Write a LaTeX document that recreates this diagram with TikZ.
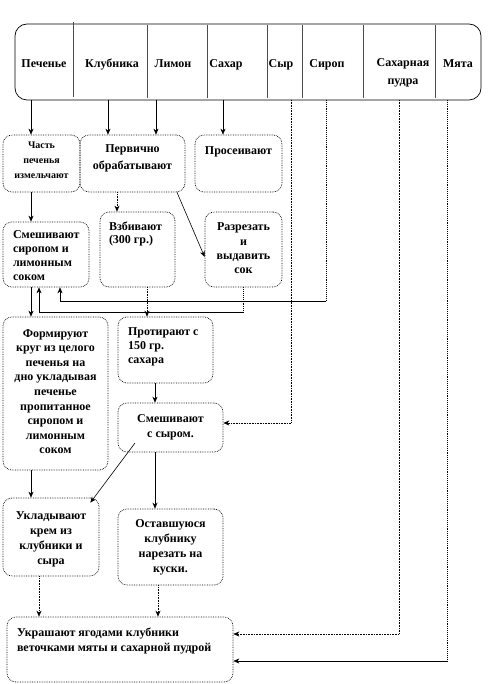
\documentclass[tikz,border=0pt]{standalone}
\usepackage{fontspec}
\setmainfont{Liberation Serif}
\usetikzlibrary{arrows.meta}
\newcommand\inbox[4]{\parbox[c][#1][t]{#2}{\vspace*{#3}#4}}
\begin{document}
\begin{tikzpicture}[x=1pt,y=-1pt,
  every node/.style={font=\fontsize{12}{14.5}\selectfont\bfseries, inner sep=0pt},
  box/.style={draw=black, densely dotted, line width=0.7pt, rounded corners=9pt},
  topbox/.style={draw=black, line width=0.7pt, rounded corners=12pt},
  lab/.style={anchor=base},
  divider/.style={draw=black!70, line width=0.8pt},
  arr/.style={-{Stealth[length=6pt,width=5pt]}, line width=0.6pt},
  dot/.style={densely dotted, line width=0.9pt}]
\useasboundingbox (0,0) rectangle (488,684);

% top ingredient box
\node[topbox, minimum width=466pt, minimum height=76pt] (top) at (248,62) {};
\foreach \xx in {147,207,267,302,363,435} \draw[divider] (\xx,25) -- (\xx,98);
\draw[divider] (73,22) -- (73,97);
\node[lab] (l1) at (44,68) {Печенье};
\node[lab] (l2) at (112,68) {Клубника};
\node[lab] (l3) at (173,68) {Лимон};
\node[lab] (l4) at (226,68) {Сахар};
\node[lab] (l5) at (281,68) {Сыр};
\node[lab] (l6) at (327,68) {Сироп};
\node[align=center, font=\fontsize{12}{18}\selectfont\bfseries] (l7) at (403,73) {Сахарная\\пудра};
\node[lab] (l8) at (458,68) {Мята};

% boxes
\node[box, minimum width=77pt, minimum height=57pt] (chast) at (41.5,163.5)
  {\inbox{57pt}{75pt}{3pt}{\centering\fontsize{10}{15}\selectfont\strut Часть\\печенья\\измельчают}};
\node[box, minimum width=105pt, minimum height=57pt] (perv) at (132.5,163.5)
  {\inbox{57pt}{100pt}{7pt}{\centering\strut Первично\\[2.5pt]обрабатывают}};
\node[box, minimum width=87pt, minimum height=57pt] (pros) at (238.5,163.5)
  {\inbox{57pt}{85pt}{9pt}{\centering\strut Просеивают}};
\node[box, minimum width=86pt, minimum height=65pt] (smesh1) at (46,254.5)
  {\inbox{65pt}{66pt}{6.8pt}{\raggedright\fontsize{12}{14}\selectfont\strut Смешивают\\сиропом и\\лимонным\\соком}};
\node[box, minimum width=75pt, minimum height=75pt] (vzbiv) at (137.5,249.5)
  {\inbox{75pt}{57pt}{8.8pt}{\raggedright\fontsize{12}{13.5}\selectfont\strut Взбивают\\(300 гр.)}};
\node[box, minimum width=77pt, minimum height=75pt] (razrez) at (243.5,249.5)
  {\inbox{75pt}{75pt}{8.8pt}{\centering\fontsize{12}{14.3}\selectfont\strut Разрезать\\и\\выдавить\\сок}};
\node[box, minimum width=105pt, minimum height=153pt] (form) at (55.5,393.5)
  {\inbox{153pt}{103pt}{9.8pt}{\centering\fontsize{12}{14.6}\selectfont\strut Формируют\\круг из целого\\печенья на\\дно укладывая\\печенье\\пропитанное\\сиропом и\\лимонным\\соком}};
\node[box, minimum width=95pt, minimum height=66pt] (protir) at (165.5,350)
  {\inbox{66pt}{75pt}{8.8pt}{\raggedright\fontsize{12}{14}\selectfont\strut Протирают с\\150 гр.\\сахара}};
\node[box, minimum width=105pt, minimum height=49pt] (smesh2) at (170.5,427.5)
  {\inbox{49pt}{100pt}{8.8pt}{\centering\fontsize{12}{15}\selectfont\strut Смешивают\\с сыром.}};
\node[box, minimum width=96pt, minimum height=78pt] (uklad) at (51,537)
  {\inbox{78pt}{94pt}{10.8pt}{\centering\fontsize{12}{15}\selectfont\strut Укладывают\\крем из\\клубники и\\сыра}};
\node[box, minimum width=105pt, minimum height=76pt] (ostav) at (170.5,547)
  {\inbox{76pt}{100pt}{7.8pt}{\centering\fontsize{12}{15}\selectfont\strut Оставшуюся\\клубнику\\нарезать на\\куски.}};
\node[box, minimum width=226pt, minimum height=65pt] (ukrash) at (120,649.5)
  {\inbox{65pt}{206pt}{8.8pt}{\raggedright\fontsize{12}{15}\selectfont\strut Украшают ягодами клубники\\веточками мяты и сахарной пудрой}};

% start points on the ingredient box
\coordinate (sPech) at (31,100);
\coordinate (sKlub) at (108,100);
\coordinate (sLim) at (156,100);
\coordinate (sSah) at (223,100);
\coordinate (sSyr) at (291,100);
\coordinate (sSir) at (326,100);
\coordinate (sPud) at (399,100);
\coordinate (sMin) at (447,100);

\draw[arr] (sPech) -- (sPech |- chast.north);
\draw[arr] (sKlub) -- (sKlub |- perv.north);
\draw[arr] (sLim) -- (sLim |- perv.north);
\draw[arr] (sSah) -- (sSah |- pros.north);

% cheese
\draw[dot,arr] (sSyr) |- ([yshift=4.5pt]smesh2.east);
% syrup
\coordinate (jSir) at (326,301);
\draw[dot] (sSir) -- (jSir);
\draw[arr] (jSir) -| ([xshift=14pt]smesh1.south);
% powdered sugar
\draw[dot,arr] (sPud) |- ([yshift=15.5pt]ukrash.east);
% mint
\coordinate (jMin) at (447,661);
\draw[dot] (sMin) -- (jMin);
\draw[arr] (jMin) -- (jMin -| ukrash.east);

% inner flow
\draw[arr] (chast.south -| sPech) -- (sPech |- smesh1.north);
\coordinate (p1) at ([xshift=-15.5pt]perv.south);
\draw[dot,arr] (p1) -- (p1 |- vzbiv.north);
\coordinate (p2) at ([xshift=44.5pt]perv.south);
\draw[arr] (p2) -- ([yshift=-7.5pt]razrez.west);
\draw[arr] (smesh1.south -| sPech) -- (sPech |- form.north);
\coordinate (r2) at (243.5,312);
\draw[dot] (razrez.south) -- (r2);
\draw[arr] (r2) -| ([xshift=-7pt]smesh1.south);
\coordinate (v1) at ([xshift=9.5pt]vzbiv.south);
\draw[dot,arr] (v1) -- (v1 |- protir.north);
\coordinate (q1) at ([xshift=-10.5pt]protir.south);
\draw[arr] (q1) -- (q1 |- smesh2.north);
\coordinate (d1) at (135,443);
\draw[arr] (d1) -- ([xshift=-9pt,yshift=-5pt]uklad.north east);
\draw[arr] (form.south -| sPech) -- (sPech |- uklad.north);
\coordinate (q2) at (q1 |- smesh2.south);
\draw[arr] (q2) -- (q2 |- ostav.north);
\coordinate (u1) at ([xshift=-12pt]uklad.south);
\draw[dot,arr] (u1) -- (u1 |- ukrash.north);
\coordinate (o1) at ([xshift=-12.5pt]ostav.south);
\draw[dot,arr] (o1) -- (o1 |- ukrash.north);
\end{tikzpicture}
\end{document}
